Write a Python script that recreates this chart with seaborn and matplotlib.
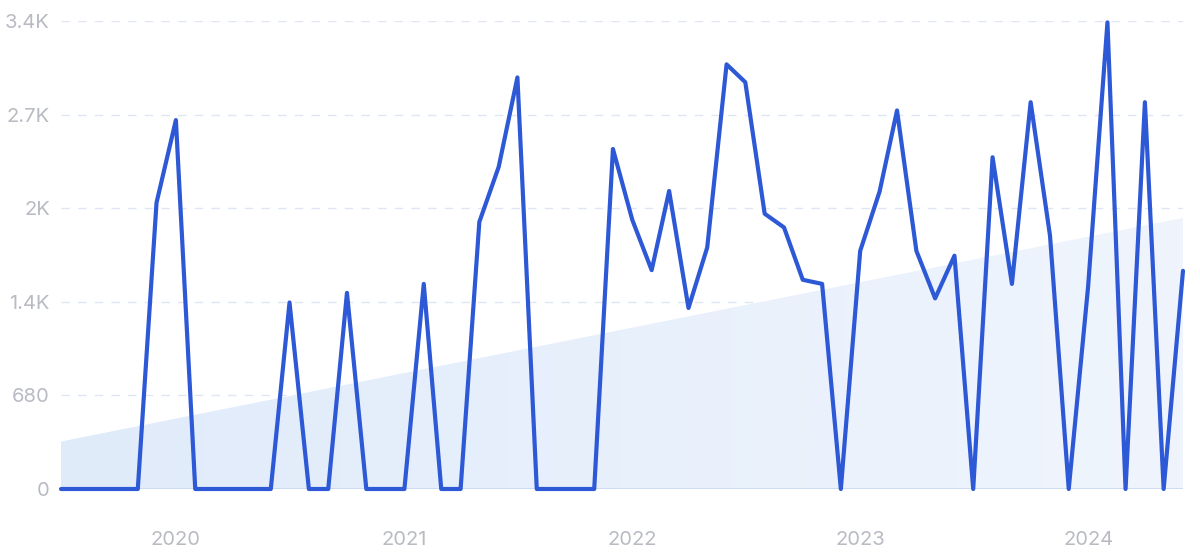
import numpy as np
import pandas as pd
import matplotlib
matplotlib.use("Agg")
import matplotlib.pyplot as plt
import seaborn as sns

# monthly search volume, Jul 2019 - Jun 2024
start_month = "2019-07-01"
volume = [
    0, 0, 0, 0, 0, 2080, 2680, 0, 0, 0,
    0, 0, 1355, 0, 0, 1425, 0, 0, 0, 1490,
    0, 0, 1940, 2340, 2990, 0, 0, 0, 0, 2470,
    1955, 1590, 2165, 1315, 1755, 3085, 2955, 2000, 1900, 1520,
    1490, 0, 1730, 2160, 2750, 1730, 1385, 1695, 0, 2410,
    1490, 2810, 1840, 0, 1470, 3390, 0, 2810, 0, 1585,
]
trend_ends = [345, 1970]
ytick_vals = [0, 680, 1360, 2040, 2720, 3400]
ytick_labels = ["0", "680", "1.4K", "2K", "2.7K", "3.4K"]
year_labels = ["2020", "2021", "2022", "2023", "2024"]

dates = pd.date_range(start_month, periods=len(volume), freq="MS")
df = pd.DataFrame({"date": dates, "volume": volume})

sns.set_style("white")
plt.rcParams["font.family"] = ["Inter", "DejaVu Sans"]

fig = plt.figure(figsize=(12, 5.52), dpi=100)
ax = fig.add_axes([61 / 1200, 1 - 489 / 552, 1122 / 1200, 468 / 552])

x0, x1 = dates[0], dates[-1]
ax.set_xlim(x0, x1)
ax.set_ylim(0, 3400)

# trend area with a soft horizontal gradient
trend = pd.DataFrame({"date": [x0, x1], "volume": trend_ends})
poly = ax.fill_between(trend["date"], 0, trend["volume"], color="none", lw=0)
grad = np.linspace(0, 1, 1024).reshape(1, -1)
cmap = matplotlib.colors.LinearSegmentedColormap.from_list("g", ["#e0ebfa", "#f0f5fd"])
xl = matplotlib.dates.date2num([x0, x1])
img = ax.imshow(grad, cmap=cmap, aspect="auto", extent=[xl[0], xl[1], 0, 3400],
                origin="lower", zorder=1, interpolation="bilinear")
img.set_clip_path(poly.get_paths()[0], transform=ax.transData)

for v in ytick_vals[1:]:
    ax.axhline(v, color="#dde6f2", lw=1, ls=(0, (6, 6)), zorder=0)
ax.axhline(0, color="#c8d8f0", lw=1.2, zorder=2)

sns.lineplot(data=df, x="date", y="volume", ax=ax, color="#2d58d6", lw=3,
             zorder=3, clip_on=False)

ax.set_yticks(ytick_vals)
ax.set_yticklabels(ytick_labels)
ax.set_xticks(pd.to_datetime([f"{y}-01-01" for y in year_labels]))
ax.set_xticklabels(year_labels)
ax.tick_params(axis="both", length=0, labelsize=14.5, colors="#b8bbc2")
ax.tick_params(axis="y", pad=8)
ax.tick_params(axis="x", pad=30)
ax.set_xlabel("")
ax.set_ylabel("")
for s in ax.spines.values():
    s.set_visible(False)

fig.savefig("out.png", dpi=100)
